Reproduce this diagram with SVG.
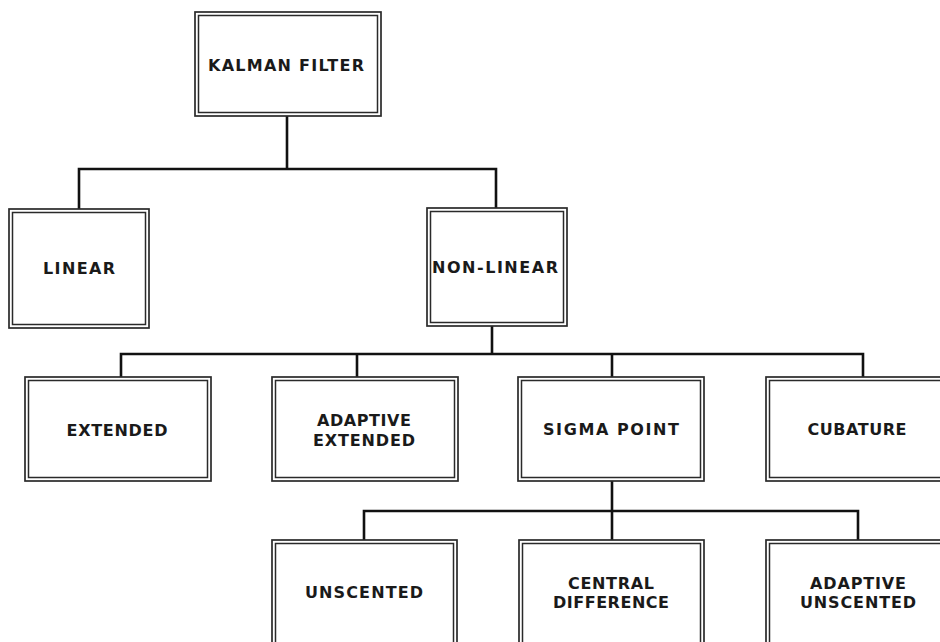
<svg xmlns="http://www.w3.org/2000/svg" width="940" height="642" viewBox="0 0 940 642">
<style>
.o{fill:#fff;stroke:#2a2a2a;stroke-width:1.7}
.i{fill:none;stroke:#2a2a2a;stroke-width:1.5}
.t{font-family:"DejaVu Sans","Liberation Sans",sans-serif;font-weight:bold;font-size:16px;fill:#1a1a1a;text-anchor:middle}
.c{fill:none;stroke:#111;stroke-width:2.6;stroke-linejoin:miter}
</style>
<rect width="940" height="642" fill="#fff"/>
<g id="connectors">
<path class="c" d="M287 116V169M79 209V169H496V208"/>
<path class="c" d="M492 326V354M121 377V354H863V377M357 354V377M612 354V377"/>
<path class="c" d="M612 481V540M364 540V511H858V540"/>
</g>
<g id="kalman">
<rect class="o" x="195" y="12" width="186" height="104"/><rect class="i" x="198.5" y="15.5" width="179" height="97"/>
<text class="t" x="286" y="71" textLength="156" lengthAdjust="spacing">KALMAN FILTER</text>
</g>
<g id="linear">
<rect class="o" x="9" y="209" width="140" height="119"/><rect class="i" x="12.5" y="212.5" width="133" height="112"/>
<text class="t" x="79" y="274" textLength="72" lengthAdjust="spacing">LINEAR</text>
</g>
<g id="nonlinear">
<rect class="o" x="427" y="208" width="140" height="118"/><rect class="i" x="430.5" y="211.5" width="133" height="111"/>
<text class="t" x="495" y="273" textLength="126" lengthAdjust="spacing">NON-LINEAR</text>
</g>
<g id="extended">
<rect class="o" x="25" y="377" width="186" height="104"/><rect class="i" x="28.5" y="380.5" width="179" height="97"/>
<text class="t" x="117" y="436" textLength="101" lengthAdjust="spacing">EXTENDED</text>
</g>
<g id="adaptive-extended">
<rect class="o" x="272" y="377" width="186" height="104"/><rect class="i" x="275.5" y="380.5" width="179" height="97"/>
<text class="t" x="364" y="426" textLength="94" lengthAdjust="spacing">ADAPTIVE</text>
<text class="t" x="364" y="446" textLength="102" lengthAdjust="spacing">EXTENDED</text>
</g>
<g id="sigma">
<rect class="o" x="518" y="377" width="186" height="104"/><rect class="i" x="521.5" y="380.5" width="179" height="97"/>
<text class="t" x="611" y="435" textLength="136" lengthAdjust="spacing">SIGMA POINT</text>
</g>
<g id="cubature">
<rect class="o" x="766" y="377" width="186" height="104"/><rect class="i" x="769.5" y="380.5" width="179" height="97"/>
<text class="t" x="857" y="435" textLength="99" lengthAdjust="spacing">CUBATURE</text>
</g>
<g id="unscented">
<rect class="o" x="272" y="540" width="185" height="120"/><rect class="i" x="275.5" y="543.5" width="178" height="113"/>
<text class="t" x="364" y="598" textLength="118" lengthAdjust="spacing">UNSCENTED</text>
</g>
<g id="central">
<rect class="o" x="519" y="540" width="185" height="120"/><rect class="i" x="522.5" y="543.5" width="178" height="113"/>
<text class="t" x="611" y="589" textLength="86" lengthAdjust="spacing">CENTRAL</text>
<text class="t" x="611" y="608" textLength="116" lengthAdjust="spacing">DIFFERENCE</text>
</g>
<g id="adaptive-unscented">
<rect class="o" x="766" y="540" width="184" height="120"/><rect class="i" x="769.5" y="543.5" width="177" height="113"/>
<text class="t" x="858" y="589" textLength="96" lengthAdjust="spacing">ADAPTIVE</text>
<text class="t" x="858" y="608" textLength="116" lengthAdjust="spacing">UNSCENTED</text>
</g>
</svg>
